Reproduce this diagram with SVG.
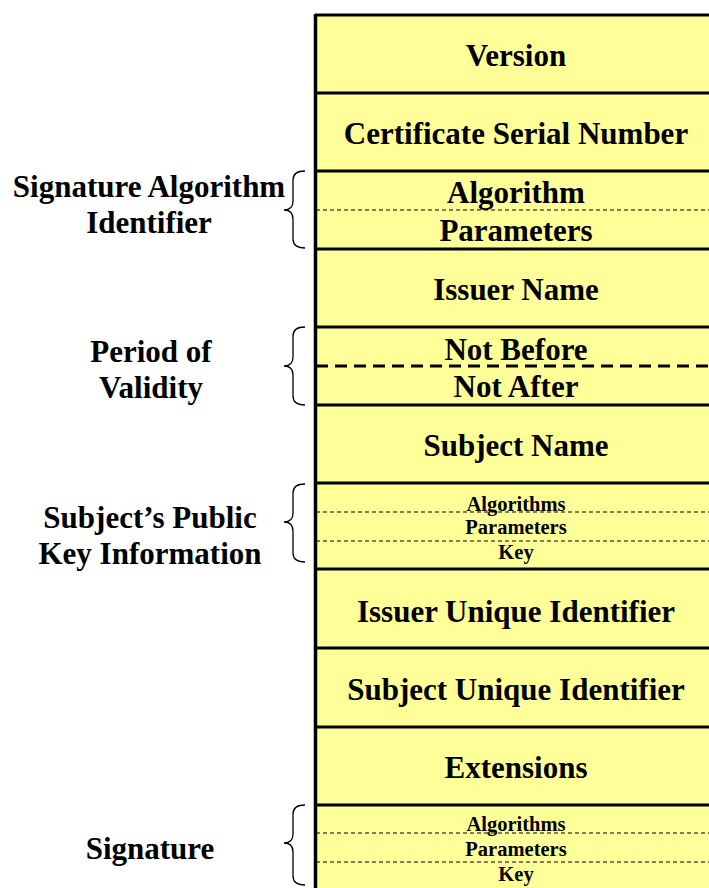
<svg xmlns="http://www.w3.org/2000/svg" width="709" height="888" viewBox="0 0 709 888">
<style>
.t{font-family:"Liberation Serif","Times New Roman",serif;font-weight:bold;fill:#000;text-anchor:middle}
.b{font-size:31px}
.s{font-size:20.5px}
.row{fill:#FFFF99}
.sep{stroke:#000;stroke-width:3}
.dash{stroke:#000;stroke-width:1;stroke-dasharray:4 3}
.thick{stroke:#000;stroke-width:3;stroke-dasharray:12 7}
.brace{fill:none;stroke:#000;stroke-width:1.3}
</style>
<rect class="row" x="315" y="15" width="400" height="880"/>
<g id="connectors">
<line class="dash" x1="316" y1="210" x2="709" y2="210"/>
<line class="thick" x1="316" y1="366" x2="709" y2="366"/>
<line class="dash" x1="316" y1="512" x2="709" y2="512"/>
<line class="dash" x1="316" y1="541" x2="709" y2="541"/>
<line class="dash" x1="316" y1="833" x2="709" y2="833"/>
<line class="dash" x1="316" y1="862" x2="709" y2="862"/>
<line class="sep" x1="315" y1="15" x2="709" y2="15"/>
<line class="sep" x1="315" y1="93" x2="709" y2="93"/>
<line class="sep" x1="315" y1="171" x2="709" y2="171"/>
<line class="sep" x1="315" y1="249" x2="709" y2="249"/>
<line class="sep" x1="315" y1="327" x2="709" y2="327"/>
<line class="sep" x1="315" y1="405" x2="709" y2="405"/>
<line class="sep" x1="315" y1="483" x2="709" y2="483"/>
<line class="sep" x1="315" y1="569" x2="709" y2="569"/>
<line class="sep" x1="315" y1="648" x2="709" y2="648"/>
<line class="sep" x1="315" y1="727" x2="709" y2="727"/>
<line class="sep" x1="315" y1="805" x2="709" y2="805"/>
<line x1="315.5" y1="14" x2="315.5" y2="888" stroke="#000" stroke-width="3.5"/>
<path class="brace" d="M305,171 Q293,171 293,180 L293,201 Q293,210 284,210 Q293,210 293,219 L293,239 Q293,248 305,248"/>
<path class="brace" d="M305,327 Q293,327 293,336 L293,357 Q293,366 284,366 Q293,366 293,375 L293,396 Q293,405 305,405"/>
<path class="brace" d="M305,484 Q293,484 293,493 L293,513 Q293,522 284,522 Q293,522 293,531 L293,553 Q293,562 305,562"/>
<path class="brace" d="M305,805 Q293,805 293,814 L293,834 Q293,843 284,843 Q293,843 293,852 L293,876 Q293,885 305,885"/>
</g>
<g id="version"><text class="t b" x="516" y="66">Version</text></g>
<g id="serial"><text class="t b" x="516" y="144">Certificate Serial Number</text></g>
<g id="sigalg"><text class="t b" x="516" y="203">Algorithm</text><text class="t b" x="516" y="241">Parameters</text></g>
<g id="issuer"><text class="t b" x="516" y="300">Issuer Name</text></g>
<g id="validity"><text class="t b" x="516" y="360">Not Before</text><text class="t b" x="516" y="397">Not After</text></g>
<g id="subject"><text class="t b" x="516" y="456">Subject Name</text></g>
<g id="pubkey"><text class="t s" x="516" y="511">Algorithms</text><text class="t s" x="516" y="534">Parameters</text><text class="t s" x="516" y="559">Key</text></g>
<g id="issuerUID"><text class="t b" x="516" y="622">Issuer Unique Identifier</text></g>
<g id="subjectUID"><text class="t b" x="516" y="700">Subject Unique Identifier</text></g>
<g id="extensions"><text class="t b" x="516" y="778">Extensions</text></g>
<g id="signature"><text class="t s" x="516" y="831">Algorithms</text><text class="t s" x="516" y="856">Parameters</text><text class="t s" x="516" y="881">Key</text></g>
<g id="label-sigalg"><text class="t b" x="149" y="197">Signature Algorithm</text><text class="t b" x="149" y="233">Identifier</text></g>
<g id="label-validity"><text class="t b" x="151" y="362">Period of</text><text class="t b" x="151" y="398">Validity</text></g>
<g id="label-pubkey"><text class="t b" x="150" y="528">Subject’s Public</text><text class="t b" x="150" y="564">Key Information</text></g>
<g id="label-signature"><text class="t b" x="150" y="859">Signature</text></g>
</svg>
